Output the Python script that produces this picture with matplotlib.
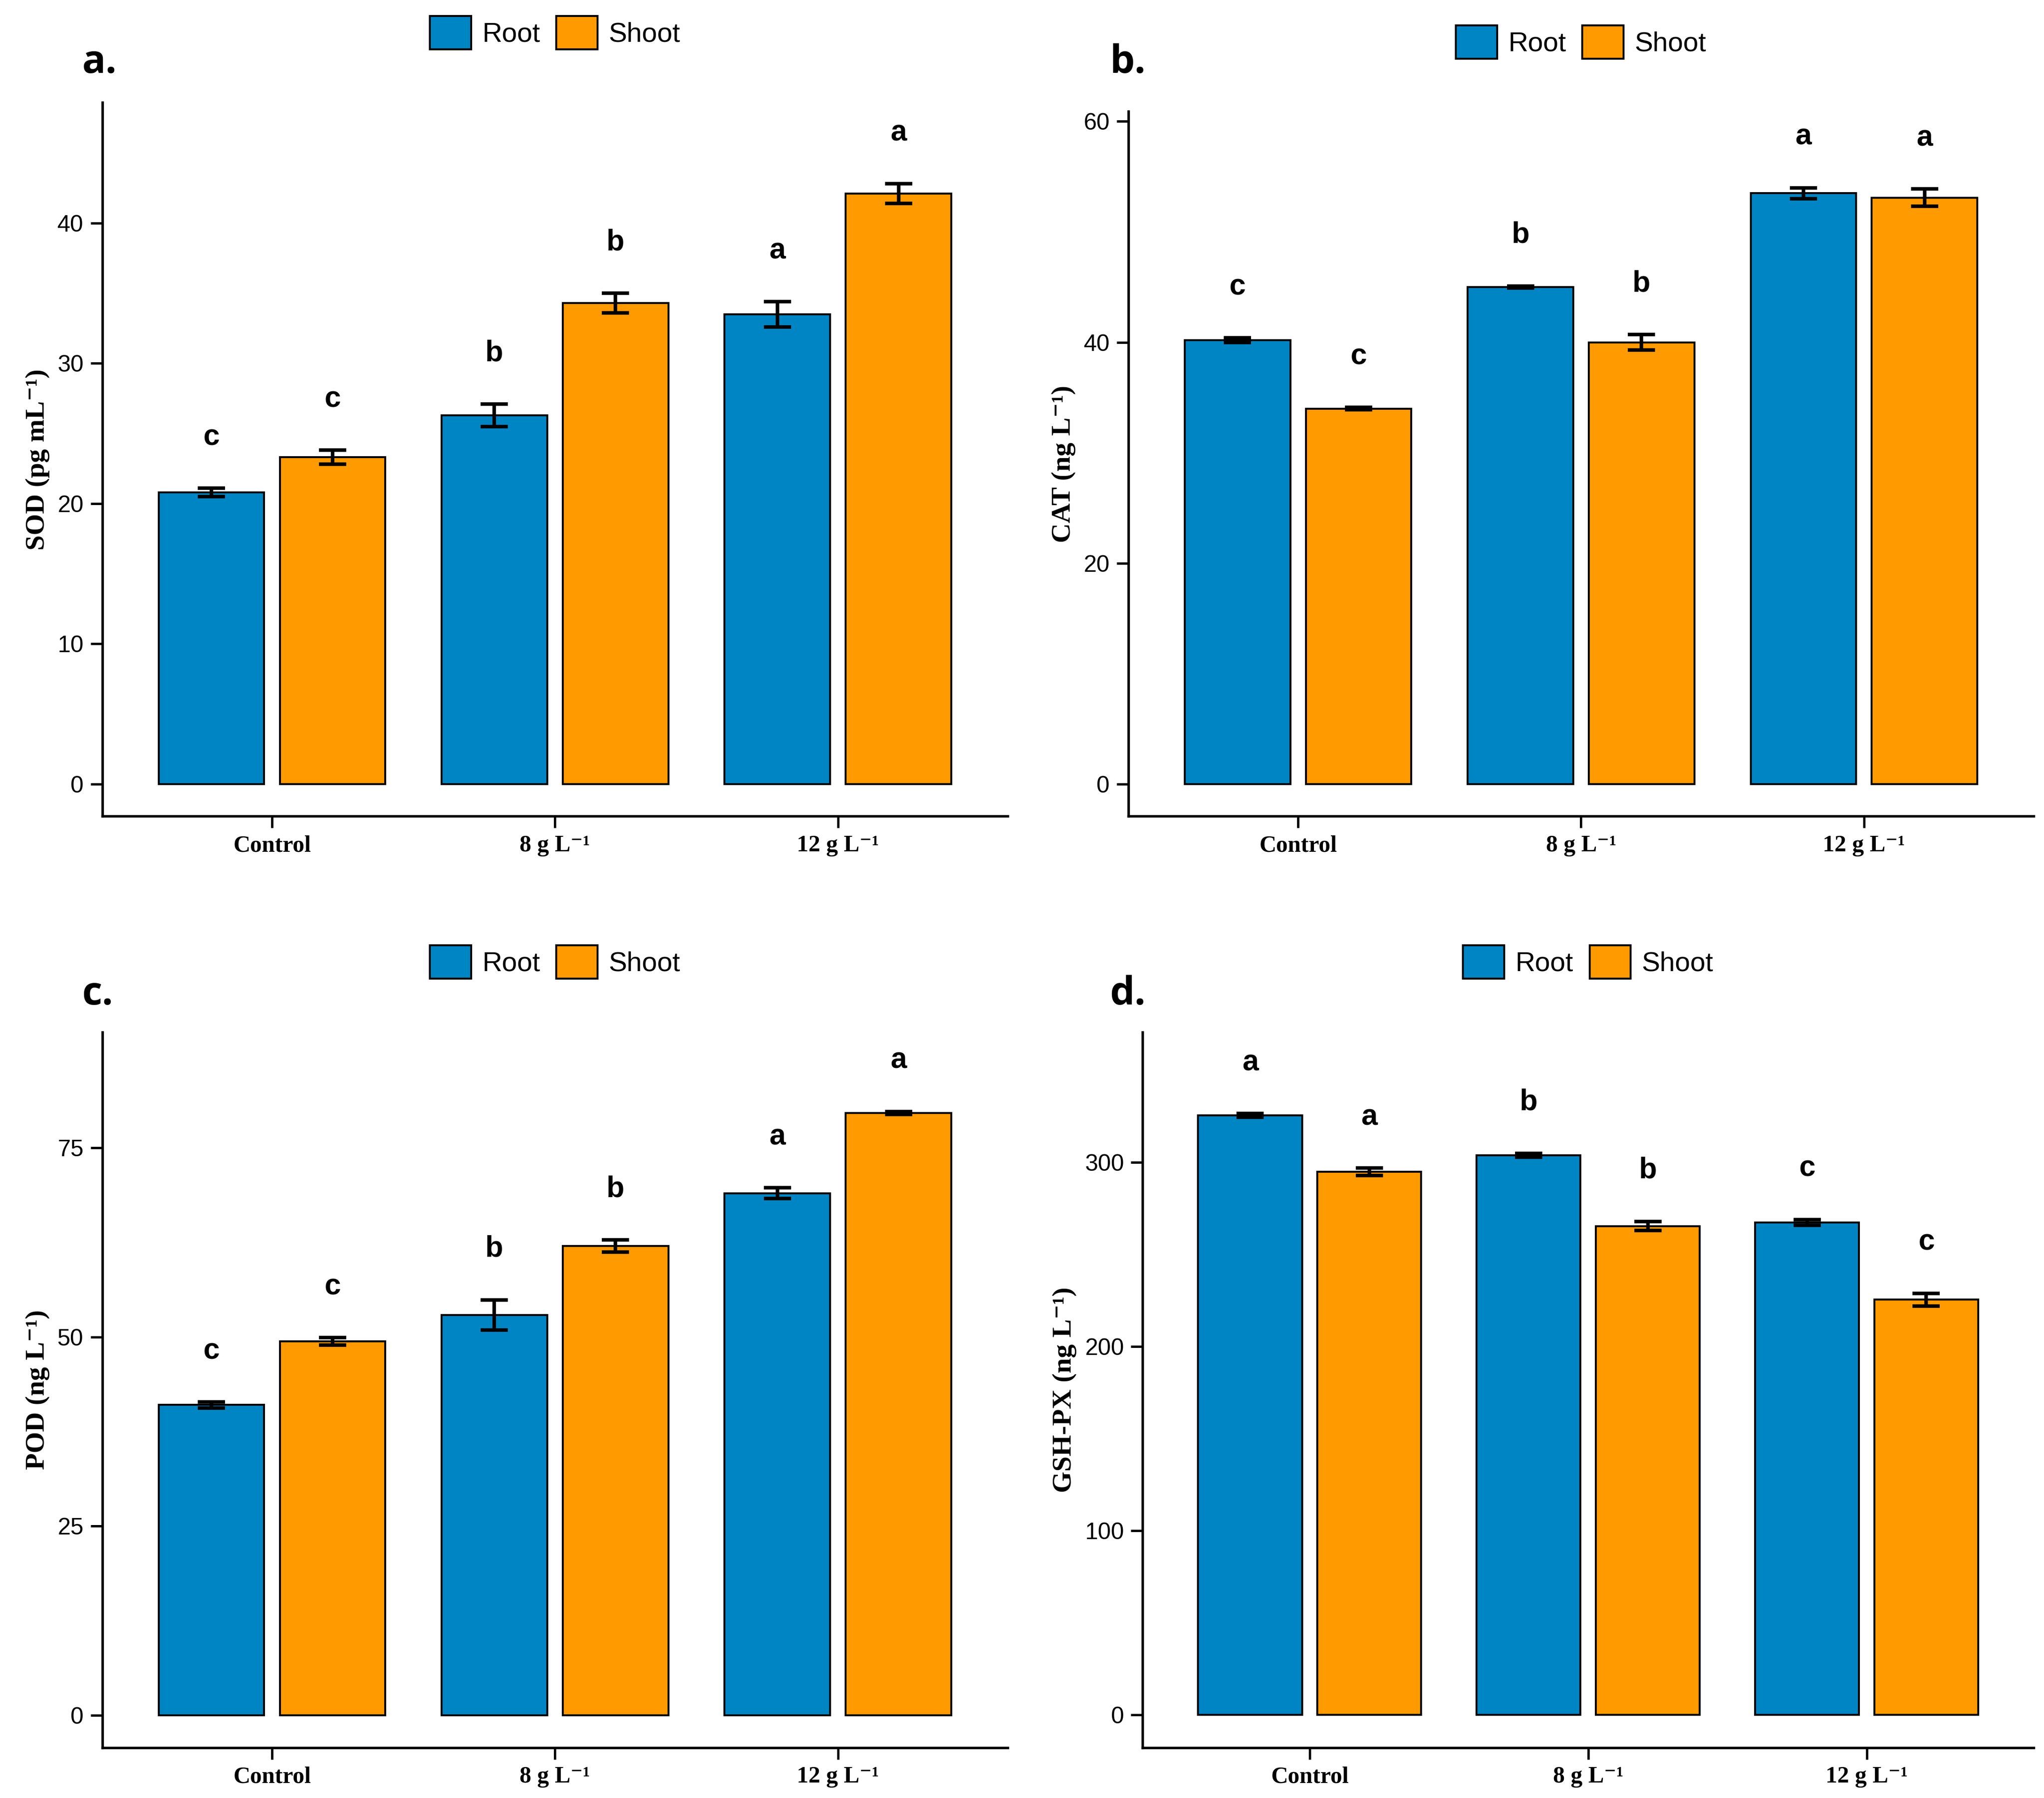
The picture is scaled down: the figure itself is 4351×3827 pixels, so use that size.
import matplotlib
matplotlib.use("Agg")
import matplotlib.pyplot as plt
import numpy as np

groups = ["Control", "8 g L\u207b\u00b9", "12 g L\u207b\u00b9"]
series = ["Root", "Shoot"]
panels = ["a.", "b.", "c.", "d."]
ylabels = ["SOD (pg mL\u207b\u00b9)", "CAT (ng L\u207b\u00b9)", "POD (ng L\u207b\u00b9)", "GSH-PX (ng L\u207b\u00b9)"]

sod_root = [20.8, 26.3, 33.5]; sod_shoot = [23.3, 34.3, 42.1]
sod_root_err = [0.3, 0.8, 0.9]; sod_shoot_err = [0.5, 0.7, 0.7]
sod_root_let = ["c", "b", "a"]; sod_shoot_let = ["c", "b", "a"]

cat_root = [40.2, 45.0, 53.5]; cat_shoot = [34.0, 40.0, 53.1]
cat_root_err = [0.2, 0.1, 0.5]; cat_shoot_err = [0.1, 0.7, 0.8]
cat_root_let = ["c", "b", "a"]; cat_shoot_let = ["c", "b", "a"]

pod_root = [41.0, 52.9, 69.0]; pod_shoot = [49.4, 62.0, 79.6]
pod_root_err = [0.4, 2.0, 0.7]; pod_shoot_err = [0.5, 0.8, 0.2]
pod_root_let = ["c", "b", "a"]; pod_shoot_let = ["c", "b", "a"]

gsh_root = [325.5, 304.0, 267.5]; gsh_shoot = [295.0, 265.5, 225.5]
gsh_root_err = [1.0, 1.0, 1.5]; gsh_shoot_err = [2.0, 2.5, 3.5]
gsh_root_let = ["a", "b", "c"]; gsh_shoot_let = ["a", "b", "c"]

data = [
    (sod_root, sod_shoot, sod_root_err, sod_shoot_err, sod_root_let, sod_shoot_let, (-2.3, 48.6), [0, 10, 20, 30, 40]),
    (cat_root, cat_shoot, cat_root_err, cat_shoot_err, cat_root_let, cat_shoot_let, (-2.9, 60.9), [0, 20, 40, 60]),
    (pod_root, pod_shoot, pod_root_err, pod_shoot_err, pod_root_let, pod_shoot_let, (-4.3, 90.3), [0, 25, 50, 75]),
    (gsh_root, gsh_shoot, gsh_root_err, gsh_shoot_err, gsh_root_let, gsh_shoot_let, (-17.7, 370.8), [0, 100, 200, 300]),
]

colors = ["#0085C4", "#FF9A00"]
rects = [
    [0.050, 0.546, 0.443, 0.397],
    [0.552, 0.546, 0.443, 0.392],
    [0.050, 0.028, 0.443, 0.398],
    [0.559, 0.028, 0.436, 0.398],
]
plabel_pos = [(0.040, 0.965), (0.543, 0.965), (0.040, 0.447), (0.543, 0.447)]

fig = plt.figure(figsize=(4351/300, 3827/300), dpi=300)
x = np.arange(1, 4)
w = 0.373; off = 0.214
serif = ["Liberation Serif", "DejaVu Serif"]
for i, (r, s, re, se, rl, sl, ylim, yt) in enumerate(data):
    ax = fig.add_axes(rects[i])
    hs = []
    for vals, errs, lets, c, dx, name in [(r, re, rl, colors[0], -off, series[0]), (s, se, sl, colors[1], off, series[1])]:
        b = ax.bar(x + dx, vals, w, color=c, edgecolor="black", linewidth=1.0, label=name)
        hs.append(b)
        ax.errorbar(x + dx, vals, yerr=errs, fmt="none", ecolor="black", elinewidth=1.8, capsize=7, capthick=1.8)
        for xi, v, e, l in zip(x + dx, vals, errs, lets):
            ax.annotate(l, (xi, v + e), xytext=(0, 26), textcoords="offset points", ha="center", va="center",
                        fontsize=15, fontweight="bold", family="Liberation Sans")
    ax.set_xlim(0.40, 3.60)
    ax.set_ylim(*ylim)
    ax.set_yticks(yt)
    ax.set_xticks(x)
    ax.set_xticklabels(groups, family=serif, fontweight="bold", fontsize=12)
    for t in ax.get_yticklabels():
        t.set_family("Liberation Sans"); t.set_fontsize(12)
    ax.set_ylabel(ylabels[i], family=serif, fontweight="bold", fontsize=14)
    ax.spines["top"].set_visible(False); ax.spines["right"].set_visible(False)
    ax.spines["left"].set_linewidth(1.3); ax.spines["bottom"].set_linewidth(1.3)
    ax.tick_params(direction="out", length=6, width=1.2)
    ax.legend(handles=hs, loc="lower center", bbox_to_anchor=(0.5, 1.04), ncol=2, frameon=False,
              prop={"family": "Liberation Sans", "size": 14}, handlelength=1.5, handleheight=1.5,
              handletextpad=0.4, columnspacing=0.6)
    fig.text(*plabel_pos[i], panels[i], fontsize=20, fontweight="bold", family="Open Sans", ha="left", va="center")

fig.savefig("out.png", dpi=300)
